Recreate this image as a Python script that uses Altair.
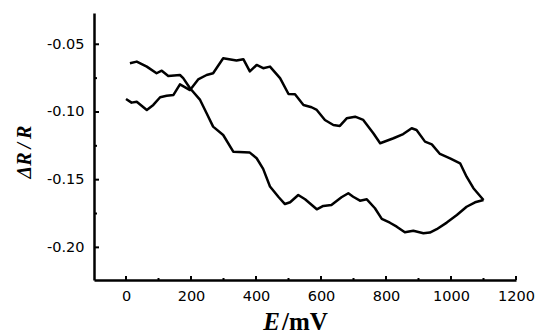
import altair as alt
import pandas as pd

# Forward scan (starts at E=0, dR/R=-0.090)
E_fwd = [0, 17, 33, 64, 84, 105, 125, 146, 166, 197, 222, 248, 268, 299, 340, 361, 381, 402, 422, 443,
         474, 500, 520, 546, 571, 587, 612, 638, 658, 679, 705, 730, 761, 782, 823, 853, 879, 894, 920,
         941, 966, 997, 1028, 1048, 1069, 1100]
R_fwd = [-0.0904, -0.0931, -0.0924, -0.0985, -0.0948, -0.0891, -0.0880, -0.0874, -0.0796, -0.0838,
         -0.0760, -0.0727, -0.0714, -0.0603, -0.0620, -0.0610, -0.0700, -0.0653, -0.0677, -0.0665,
         -0.0750, -0.0867, -0.0869, -0.0948, -0.0965, -0.0985, -0.1059, -0.1096, -0.1103, -0.1047,
         -0.1035, -0.1059, -0.1157, -0.1231, -0.1194, -0.1163, -0.1120, -0.1133, -0.1219, -0.1239,
         -0.1310, -0.1342, -0.1379, -0.1478, -0.1563, -0.1650]

# Other branch (starts at E=12, dR/R=-0.064)
E_rev = [12, 33, 64, 94, 110, 130, 166, 176, 197, 228, 248, 268, 299, 330, 381, 402, 422, 443, 470,
         489, 505, 530, 551, 587, 607, 632, 663, 684, 699, 720, 741, 766, 787, 812, 833, 858, 884, 915,
         935, 956, 987, 1018, 1048, 1074, 1100]
R_rev = [-0.0640, -0.0628, -0.0665, -0.0714, -0.0695, -0.0734, -0.0727, -0.0750, -0.0825, -0.0911,
         -0.1010, -0.1108, -0.1170, -0.1293, -0.1300, -0.1342, -0.1420, -0.1550, -0.1630, -0.1680,
         -0.1667, -0.1613, -0.1645, -0.1719, -0.1694, -0.1687, -0.1630, -0.1600, -0.1626, -0.1655,
         -0.1645, -0.1711, -0.1790, -0.1818, -0.1847, -0.1889, -0.1877, -0.1896, -0.1891, -0.1866,
         -0.1817, -0.1761, -0.1700, -0.1667, -0.1650]

x_major = [0, 200, 400, 600, 800, 1000, 1200]
x_minor = [100, 300, 500, 700, 900, 1100]
y_major = [-0.05, -0.10, -0.15, -0.20]
y_minor = [-0.075, -0.125, -0.175]

W, H = 422, 267
XDOM = [-98.5, 1200]
YDOM = [-0.2241, -0.0269]

rows = []
for i, (e, r) in enumerate(zip(E_fwd, R_fwd)):
    rows.append({"E": e, "R": r, "branch": "fwd", "i": i})
for i, (e, r) in enumerate(zip(E_rev, R_rev)):
    rows.append({"E": e, "R": r, "branch": "rev", "i": i})
df = pd.DataFrame(rows)

xs = alt.Scale(domain=XDOM, nice=False, zero=False)
ys = alt.Scale(domain=YDOM, nice=False, zero=False)

lab_font = "DejaVu Sans"

x_axis = alt.Axis(values=x_major, title=None, grid=False, ticks=False, labelPadding=9,
                  labelFont=lab_font, labelFontSize=14.5, labelColor="black", format="d",
                  domainColor="black", domainWidth=2.5, labelFlush=False, labelOverlap=False)
y_axis = alt.Axis(values=y_major, title=None, grid=False, ticks=False, labelPadding=10,
                  labelFont=lab_font, labelFontSize=14.5, labelColor="black",
                  domainColor="black", domainWidth=2.5, labelFlush=False, labelOverlap=False,
                  labelExpr="datum.value < 0 ? '-' + format(-datum.value, '.2f') : format(datum.value, '.2f')")

lines = alt.Chart(df).mark_line(color="black", strokeWidth=2.5, strokeJoin="round").encode(
    x=alt.X("E:Q", scale=xs, axis=x_axis),
    y=alt.Y("R:Q", scale=ys, axis=y_axis),
    detail="branch:N",
    order="i:Q",
)

xt_major = alt.Chart(pd.DataFrame({"v": x_major})).mark_rule(color="black", strokeWidth=2).encode(
    x=alt.X("v:Q", scale=xs), y=alt.value(H), y2=alt.value(H - 4))
xt_minor = alt.Chart(pd.DataFrame({"v": x_minor})).mark_rule(color="black", strokeWidth=2).encode(
    x=alt.X("v:Q", scale=xs), y=alt.value(H), y2=alt.value(H - 2))
yt_major = alt.Chart(pd.DataFrame({"v": y_major})).mark_rule(color="black", strokeWidth=2).encode(
    y=alt.Y("v:Q", scale=ys), x=alt.value(0), x2=alt.value(5))
yt_minor = alt.Chart(pd.DataFrame({"v": y_minor})).mark_rule(color="black", strokeWidth=2).encode(
    y=alt.Y("v:Q", scale=ys), x=alt.value(0), x2=alt.value(3))

serif = "Liberation Serif"
xt_E = alt.Chart(pd.DataFrame({"a": [0]})).mark_text(
    font=serif, fontSize=25, fontStyle="italic", fontWeight="bold", align="right",
    baseline="alphabetic", color="black").encode(
    x=alt.value(186), y=alt.value(317), text=alt.value("E"))
xt_rest = alt.Chart(pd.DataFrame({"a": [0]})).mark_text(
    font=serif, fontSize=25, fontWeight="bold", align="left",
    baseline="alphabetic", color="black").encode(
    x=alt.value(188), y=alt.value(317), text=alt.value("/mV"))
yt = alt.Chart(pd.DataFrame({"a": [0]})).mark_text(
    font=serif, fontSize=20, fontStyle="italic", fontWeight="bold", align="center", angle=270,
    baseline="middle", color="black").encode(
    x=alt.value(-69), y=alt.value(139), text=alt.value("\u0394R\u2009/\u2009R"))

chart = alt.layer(lines, xt_major, xt_minor, yt_major, yt_minor, xt_E, xt_rest, yt).properties(
    width=W, height=H,
    autosize=alt.AutoSizeParams(type="none"),
    padding={"left": 94, "top": 13, "right": 19, "bottom": 55},
    background="white",
).configure_view(stroke=None)

chart.save("out.html", embed_options={"renderer": "svg", "actions": False})
